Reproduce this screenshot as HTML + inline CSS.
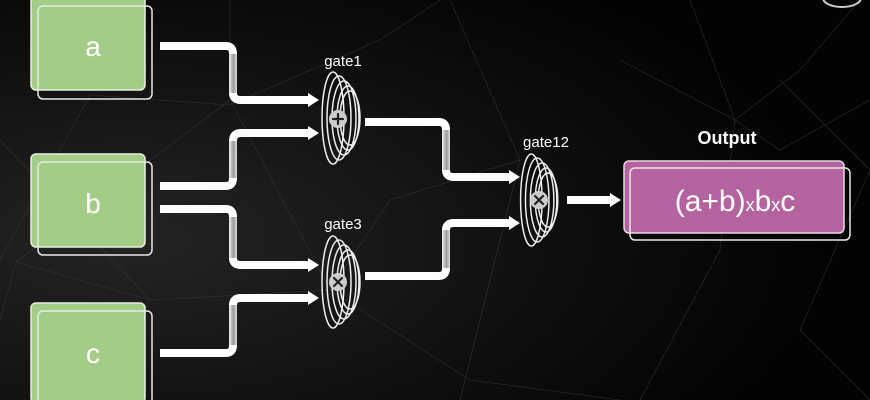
<!DOCTYPE html>
<html><head><meta charset="utf-8"><style>
html,body{margin:0;padding:0;background:#0a0a0a;}
svg{display:block}
text{font-family:"Liberation Sans","DejaVu Sans",sans-serif;fill:#fff}
</style></head><body>
<svg width="870" height="400" viewBox="0 0 870 400" xmlns="http://www.w3.org/2000/svg">
<defs>
<radialGradient id="bg" cx="0.15" cy="0.6" r="0.8">
<stop offset="0" stop-color="#242424"/><stop offset="0.6" stop-color="#0f0f0f"/><stop offset="1" stop-color="#030303"/>
</radialGradient>
<linearGradient id="vg" x1="0" x2="1" y1="0" y2="0">
<stop offset="0" stop-color="#f0f0f0"/><stop offset="0.55" stop-color="#9a9a9a"/><stop offset="1" stop-color="#dcdcdc"/>
</linearGradient>
</defs>
<rect width="870" height="400" fill="url(#bg)"/>
<g stroke="#3a3a3a" stroke-width="0.8" fill="none" opacity="0.6">
<path d="M0 260 L90 95 L230 105 L380 40 L440 0"/>
<path d="M0 140 L150 300 L330 290 L470 380 L620 400"/>
<path d="M16 262 L230 100 L330 290 L390 200 L520 160"/>
<path d="M690 0 L735 120 L800 70 L860 0"/>
<path d="M620 60 L735 120 L780 150 L870 100"/>
<path d="M735 120 L720 250 L640 400"/>
<path d="M780 80 L870 170 L800 330 L870 400"/>
<path d="M230 0 L230 100 M450 0 L520 160 L460 400"/>
<path d="M0 320 L16 262 L150 300 L100 400"/>
</g>
<ellipse cx="842" cy="-2" rx="19" ry="9" fill="none" stroke="#ccc" stroke-width="2"/>
<g fill="#a3cc87" stroke="#e8f0e0" stroke-width="1.5">
<rect x="31" y="-4" width="114" height="94" rx="5"/>
<rect x="31" y="154" width="114" height="93" rx="5"/>
<rect x="31" y="303" width="114" height="100" rx="5"/>
</g>
<g fill="none" stroke="#e8e8e8" stroke-width="1.5">
<rect x="38" y="6" width="114" height="93" rx="5"/>
<rect x="38" y="162" width="114" height="93" rx="5"/>
<rect x="38" y="311" width="114" height="100" rx="5"/>
</g>
<g font-size="28" text-anchor="middle">
<text x="93" y="56">a</text>
<text x="93" y="213">b</text>
<text x="93" y="363">c</text>
</g>
<g fill="url(#vg)">
<rect x="229" y="52" width="8" height="42"/>
<rect x="229" y="140" width="8" height="39"/>
<rect x="229" y="216" width="8" height="43"/>
<rect x="229" y="304" width="8" height="42"/>
<rect x="442" y="129" width="8" height="42"/>
<rect x="442" y="229" width="8" height="40"/>
</g>
<g fill="none" stroke-width="8" stroke="#fff">
<path d="M160 46 H226 Q233 46 233 54"/>
<path d="M233 93 Q233 100 241 100 H310"/>
<path d="M160 186 H226 Q233 186 233 178"/>
<path d="M233 141 Q233 133 241 133 H310"/>
<path d="M160 209 H226 Q233 209 233 217"/>
<path d="M233 258 Q233 265 241 265 H310"/>
<path d="M160 353 H226 Q233 353 233 345"/>
<path d="M233 305 Q233 298 241 298 H310"/>
<path d="M365 122 H439 Q446 122 446 130"/>
<path d="M446 170 Q446 177 454 177 H511"/>
<path d="M365 276 H439 Q446 276 446 268"/>
<path d="M446 230 Q446 223 454 223 H511"/>
<path d="M567 200 H612"/>
</g>
<g fill="#fff">
<path d="M308 93 L319 100 L308 107Z"/>
<path d="M308 126 L319 133 L308 140Z"/>
<path d="M308 258 L319 265 L308 272Z"/>
<path d="M308 291 L319 298 L308 305Z"/>
<path d="M509 170 L520 177 L509 184Z"/>
<path d="M509 216 L520 223 L509 230Z"/>
<path d="M610 193 L621 200 L610 207Z"/>
</g>
<g fill="none" stroke="#eee" stroke-width="1.5">
<g id="g1">
<ellipse cx="333" cy="118" rx="11" ry="46"/>
<ellipse cx="339" cy="118" rx="12" ry="42"/>
<ellipse cx="344" cy="118" rx="12" ry="37"/>
<ellipse cx="348" cy="118" rx="11" ry="32"/>
<ellipse cx="350" cy="118" rx="10" ry="27"/>
</g>
<use href="#g1" y="164"/>
<g transform="translate(205 82)"><use href="#g1" transform="scale(0.98 1)"/></g>
</g>
<g fill="#ccc"><circle cx="338" cy="119" r="9"/><circle cx="338" cy="282" r="9"/><circle cx="539" cy="200" r="9"/></g>
<g stroke="#222" stroke-width="2.2" stroke-linecap="round">
<path d="M333 119 H343 M338 114 V124"/>
<path d="M334 278 L342 286 M342 278 L334 286"/>
<path d="M535 196 L543 204 M543 196 L535 204"/>
</g>
<g font-size="15" text-anchor="middle">
<text x="343" y="66">gate1</text>
<text x="343" y="229">gate3</text>
<text x="546" y="147">gate12</text>
<text x="727" y="144" font-weight="bold" font-size="18">Output</text>
</g>
<rect x="624" y="161" width="220" height="72" rx="5" fill="#b5639e" stroke="#e8d8e4" stroke-width="1.5"/>
<rect x="630" y="168" width="220" height="72" rx="5" fill="none" stroke="#e8e8e8" stroke-width="1.5"/>
<text x="735" y="211" font-size="30" text-anchor="middle">(a+b)<tspan font-size="18">x</tspan>b<tspan font-size="18">x</tspan>c</text>
</svg>
</body></html>
